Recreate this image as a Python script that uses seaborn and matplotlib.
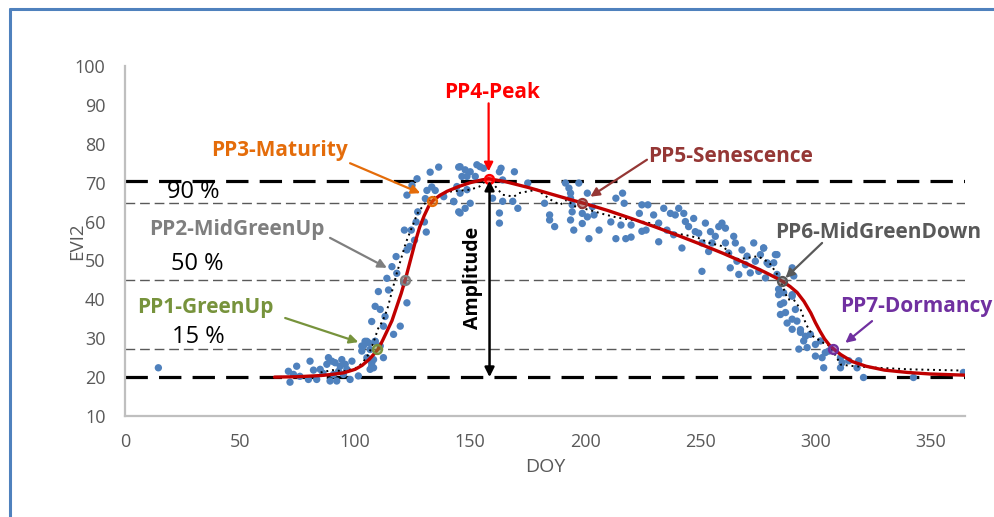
import matplotlib
matplotlib.use("Agg")
import matplotlib.pyplot as plt
import matplotlib.colors as mcolors
import seaborn as sns
import pandas as pd
from matplotlib.lines import Line2D

# ---------------- data ----------------
obs_doy = [14.5, 71.0, 71.7, 73.2, 74.6, 76.0, 79.7, 80.4, 81.9, 83.3, 84.8, 86.0, 87.7, 88.4, 89.1,
           89.9, 90.6, 91.3, 92.0, 92.8, 93.5, 94.2, 94.9, 95.7, 96.4, 97.8, 98.6, 101.4, 102.9,
           103.6, 104.3, 105.1, 105.8, 106.5, 107.2, 108.0, 108.7, 110.9, 112.3,
           102.9, 105.1, 106.5, 108.7, 107.2, 108.0, 108.7, 110.9, 113.0, 107.2, 112.3, 116.7,
           119.6, 110.1, 114.5, 113.8, 118.1, 116.0, 117.8, 122.5, 121.1, 123.7, 121.4, 124.4,
           125.8, 122.5, 127.2, 126.5, 130.9, 130.1, 122.5, 124.7, 126.9, 132.6, 136.3, 131.2,
           133.3, 134.8, 130.5, 138.5, 142.9, 145.0, 145.0,
           145.6, 147.8, 146.4, 148.6, 150.0, 152.9, 154.3, 155.8, 152.2, 144.2, 148.6, 145.6,
           142.8, 150.0, 147.8, 145.6, 163.4, 162.7, 169.2, 164.1, 159.7, 164.1, 168.5, 170.7,
           162.7, 162.7, 175.0, 182.3, 184.5, 184.5, 186.7, 191.4, 192.9, 197.2, 193.6, 193.6,
           194.3, 194.3, 193.6, 195.0, 198.7, 198.7, 200.9, 200.9, 201.6, 203.1, 203.8, 206.0,
           211.1, 213.3, 213.3, 215.5, 216.2, 216.9, 217.6, 219.9, 219.9, 223.5, 226.4, 227.2,
           224.6, 224.6, 229.7, 231.9, 231.9, 234.1, 235.5, 237.0, 238.4, 239.1, 240.6, 242.0,
           242.8, 243.5, 244.9, 247.1, 247.8, 249.3, 250.7, 250.7, 252.2, 253.6, 254.4, 255.1,
           256.5, 258.0, 259.4, 260.9, 260.9, 262.3, 263.0, 264.5, 265.2, 265.9, 266.7, 268.1,
           269.6, 270.3, 271.7, 273.2, 273.9, 275.4, 276.1, 277.5, 278.3, 279.7, 281.9, 282.6,
           283.3, 284.0, 284.8, 286.2, 287.7, 289.9, 291.3, 292.0, 293.5, 295.7,
           277.5, 283.3, 279.0, 289.9, 290.6, 284.0, 286.2, 289.9, 284.8, 287.0, 289.9, 289.9,
           293.5, 294.9, 297.8, 292.8, 296.4, 300.0, 302.2, 304.3, 302.9, 300.0, 305.8, 310.9,
           311.6, 310.9, 314.5, 318.8, 318.1, 303.6, 320.9, 342.6, 364.3]
obs_evi = [22.4, 21.5, 18.7, 20.7, 22.8, 20.2, 19.4, 24.1, 21.8, 19.4, 22.0, 21.0, 23.3, 25.0, 19.0,
           24.1, 20.7, 23.7, 19.0, 21.5, 22.8, 24.5, 20.7, 23.3, 22.0, 19.4, 24.1, 20.3, 26.7,
           28.0, 29.2, 25.0, 28.8, 22.0, 22.8, 24.5, 29.2, 28.0, 25.0,
           28.0, 29.2, 27.1, 29.2, 23.6, 22.4, 38.2, 37.4, 35.6, 34.3, 33.1, 31.0,
           33.1, 42.0, 42.4, 45.4, 46.7, 48.4, 51.0, 39.1, 44.2, 53.6, 57.8, 57.8,
           55.2, 52.7, 62.5, 59.9, 57.3, 59.9, 66.8, 69.3, 71.0, 72.7, 74.0, 68.0,
           68.9, 68.0, 65.9, 66.4, 65.1, 74.0, 62.5,
           74.1, 73.3, 71.6, 71.6, 72.8, 74.6, 74.1, 73.7, 71.6, 69.0, 68.2, 67.3,
           65.2, 64.7, 63.4, 62.2, 73.7, 72.8, 72.8, 70.7, 66.0, 65.2, 65.2, 63.4,
           62.2, 59.6, 69.9, 64.7, 61.7, 60.4, 58.7, 69.9, 68.6, 69.9, 67.3, 66.0,
           64.3, 62.5, 60.4, 57.8, 62.1, 59.5, 67.3, 61.2, 55.6, 63.8, 61.7, 57.8,
           59.9, 66.0, 55.6, 59.1, 67.3, 64.7, 55.6, 56.0, 59.1, 62.1, 57.8, 64.3,
           64.3, 57.5, 61.7, 59.6, 54.8, 63.4, 57.8, 62.1, 56.6, 61.7, 63.4, 53.2,
           62.1, 60.0, 58.7, 60.8, 57.4, 57.0, 54.5, 47.2, 59.6, 52.3, 57.4, 54.5,
           56.2, 58.7, 59.6, 58.3, 54.5, 51.9, 48.1, 56.2, 54.5, 49.8, 46.4, 52.7,
           48.9, 51.1, 46.8, 54.5, 49.8, 47.2, 51.5, 53.2, 45.5, 49.0, 49.4, 51.5,
           46.4, 41.2, 36.1, 39.1, 33.9, 41.2, 37.4, 34.4, 32.2, 30.5,
           53.2, 51.5, 49.4, 48.1, 46.0, 42.6, 41.7, 40.8, 38.7, 36.6, 34.9, 32.3,
           31.5, 29.3, 31.0, 27.2, 27.6, 28.4, 29.3, 26.3, 25.0, 25.4, 26.7, 25.0,
           23.7, 22.4, 24.2, 24.2, 22.4, 22.4, 19.9, 19.9, 21.2]

fit_doy = [65, 75, 85, 90, 95, 100, 103, 106, 108, 110, 112, 114, 116, 118, 120, 122, 124, 126,
           128, 130, 132, 134, 137, 140, 145, 150, 155, 158, 165, 175, 185, 195, 200, 210, 220,
           230, 240, 250, 260, 270, 278, 283, 286, 289, 292, 295, 298, 300, 302, 304, 306, 308,
           311, 316, 322, 330, 340, 350, 365]
fit_evi = [20.0, 20.1, 20.4, 20.7, 21.1, 22.0, 23.0, 24.5, 25.8, 27.2, 29.5, 32.0, 34.5, 38.0,
           41.5, 45.5, 50.0, 54.5, 58.5, 61.5, 64.0, 65.5, 66.8, 67.8, 69.0, 70.0, 70.7, 71.0,
           70.3, 68.8, 67.1, 65.4, 64.6, 62.8, 60.8, 58.7, 56.5, 54.2, 51.8, 49.2, 47.0, 45.5,
           44.5, 43.3, 41.8, 39.5, 36.5, 34.0, 31.8, 29.8, 28.3, 27.2, 25.8, 24.0, 22.8, 21.8,
           21.2, 20.8, 20.5]

smooth_doy = [85, 90, 95, 100, 103, 106, 108, 110, 112, 114, 116, 118, 120, 122, 124, 127, 130,
              135, 141, 150, 154, 158, 164, 169, 171, 179, 185, 189, 192, 195, 201, 208, 214,
              223, 228, 237, 243, 249, 254, 260, 265, 270, 275, 280, 284, 286, 288, 290.6,
              293.5, 296, 299, 303.5, 306.5, 311, 317, 327, 341, 363]
smooth_evi = [21.2, 21.8, 21.5, 22.2, 23.5, 26.0, 29.0, 32.5, 34.5, 37.5, 42.0, 46.5, 50.5,
              54.5, 57.5, 62.0, 64.5, 66.5, 67.7, 68.2, 69.0, 71.1, 66.9, 66.4, 67.3, 68.2,
              65.6, 64.3, 65.6, 64.0, 63.1, 61.9, 61.0, 60.2, 59.6, 57.1, 56.6, 55.8, 54.5,
              53.6, 50.2, 50.6, 51.1, 49.4, 45.9, 43.0, 40.0, 39.9, 37.5, 33.5, 30.5, 28.8,
              27.9, 23.2, 22.8, 22.4, 22.0, 21.7]

pp_labels = ["PP1-GreenUp", "PP2-MidGreenUp", "PP3-Maturity", "PP4-Peak",
             "PP5-Senescence", "PP6-MidGreenDown", "PP7-Dormancy"]
pp_doy = [109.7, 121.7, 133.3, 158.0, 198.7, 285.5, 307.7]
pp_evi = [27.1, 45.1, 65.2, 71.0, 64.8, 44.8, 27.3]
pp_colors = ["#77933C", "#7F7F7F", "#E46C0A", "#FF0000", "#953735", "#595959", "#7030A0"]

base_evi = 20.0
peak_evi = 70.5
pct_labels = ["90 %", "50 %", "15 %"]
pct_levels = [64.8, 45.1, 27.1]

x_ticks = [0, 50, 100, 150, 200, 250, 300, 350]
y_ticks = [10, 20, 30, 40, 50, 60, 70, 80, 90, 100]

# ---------------- style ----------------
sns.set_style("white")
plt.rcParams["font.family"] = ["Open Sans", "DejaVu Sans"]

fig = plt.figure(figsize=(9.95, 5.17), dpi=100)
ax = fig.add_axes([125 / 995, 1 - 416 / 517, 840 / 995, 350 / 517])

# threshold lines
for lvl in [base_evi, peak_evi]:
    ax.axhline(lvl, color="black", lw=2.3, dashes=(7, 3.5), zorder=1)
for lvl in pct_levels:
    ax.axhline(lvl, color="#595959", lw=1.0, dashes=(7, 3.5), zorder=1)

obs = pd.DataFrame({"DOY": obs_doy, "EVI2": obs_evi})
sns.scatterplot(data=obs, x="DOY", y="EVI2", ax=ax, color="#4F81BD", s=28,
                edgecolor="none", zorder=2)

smooth = pd.DataFrame({"DOY": smooth_doy, "EVI2": smooth_evi})
sns.lineplot(data=smooth, x="DOY", y="EVI2", ax=ax, color="black", lw=1.4,
             linestyle=(0, (1, 2)), zorder=3, sort=False)

fit = pd.DataFrame({"DOY": fit_doy, "EVI2": fit_evi})
sns.lineplot(data=fit, x="DOY", y="EVI2", ax=ax, color="#C00000", lw=2.4, zorder=4,
             sort=False)

for d, e, c in zip(pp_doy, pp_evi, pp_colors):
    ax.plot(d, e, marker="o", ms=6.5, mfc=mcolors.to_rgba(c, 0.55), mec=c, mew=1.6,
            zorder=5)

# annotations
text_pos = [(5.2, 37.9, "left"), (10.4, 57.9, "left"), (37.4, 78.2, "left"),
            (159.6, 93.3, "center"), (227.4, 76.6, "left"), (282.6, 57.1, "left"),
            (310.9, 38.1, "left")]
arrow_tail = [(69.6, 35.2), (89.1, 55.8), (97.8, 75.0), (158.0, 90.4), (226.8, 75.9),
              (302.9, 54.5), (324.6, 34.4)]
arrow_head = [(101.4, 29.0), (113.8, 48.1), (128.3, 67.3), (158.0, 72.9), (202.2, 66.4),
              (287.0, 45.5), (313.0, 28.8)]
for lab, c, (tx, ty, ha), tail, head in zip(pp_labels, pp_colors, text_pos, arrow_tail, arrow_head):
    ax.text(tx, ty, lab, color=c, fontsize=15, fontweight="bold", ha=ha, va="center", zorder=6)
    ax.annotate("", xy=head, xytext=tail,
                arrowprops=dict(arrowstyle="-|>", color=c, lw=1.6, mutation_scale=13,
                                shrinkA=0, shrinkB=0), zorder=6)

# amplitude
ax.annotate("", xy=(158.4, base_evi), xytext=(158.4, peak_evi),
            arrowprops=dict(arrowstyle="<|-|>", color="black", lw=1.8, mutation_scale=14,
                            shrinkA=0, shrinkB=0), zorder=6)
ax.text(151.4, 45.5, "Amplitude", rotation=90, fontsize=14, fontweight="bold",
        ha="center", va="center", color="black", zorder=6)

pct_x = [29.6, 31.5, 31.7]
pct_y = [67.6, 49.0, 30.4]
for lab, x, y in zip(pct_labels, pct_x, pct_y):
    ax.text(x, y, lab, fontsize=17, color="black", ha="center", va="center", zorder=6)

# axes
ax.set_xlim(0, 365)
ax.set_ylim(10, 100)
ax.set_xticks(x_ticks)
ax.set_yticks(y_ticks)
ax.tick_params(length=0, labelsize=13, labelcolor="#595959")
ax.tick_params(axis="x", pad=12)
ax.tick_params(axis="y", pad=14)
for s in ["top", "right"]:
    ax.spines[s].set_visible(False)
for s in ["left", "bottom"]:
    ax.spines[s].set_color("#BFBFBF")
    ax.spines[s].set_linewidth(1.6)
ax.set_xlabel("DOY", fontsize=14, color="#595959")
ax.set_ylabel("EVI2", fontsize=13.5, color="#595959")
ax.xaxis.set_label_coords((545 - 125) / 840, -(467 - 416) / 350)
ax.yaxis.set_label_coords(-(125 - 77) / 840, 0.5)
ax.xaxis.label.set_va("center")
ax.yaxis.label.set_va("center")
ax.grid(False)

# blue frame (left and top edges)
fig.add_artist(Line2D([10 / 995, 10 / 995], [0, 1 - 9 / 517], color="#4F81BD", lw=2.2,
                      transform=fig.transFigure))
fig.add_artist(Line2D([10 / 995, 1], [1 - 9 / 517, 1 - 9 / 517], color="#4F81BD", lw=2.2,
                      transform=fig.transFigure))

fig.savefig("out.png", dpi=100)
